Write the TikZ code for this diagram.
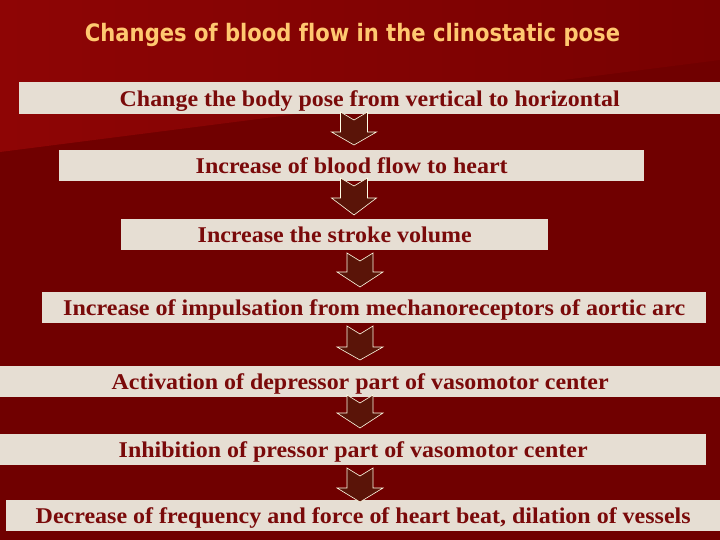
\documentclass[tikz,border=0pt]{standalone}
\usepackage{fontspec}
\setmainfont{Liberation Serif}
\newfontfamily\titlefont[Ligatures=NoCommon]{DejaVu Sans}
\usetikzlibrary{calc}
\definecolor{bgdark}{HTML}{700000}
\definecolor{bglight}{HTML}{8E0505}
\definecolor{bgmid}{HTML}{780101}
\definecolor{boxfill}{HTML}{E6DED3}
\definecolor{boxtext}{HTML}{7A0A0A}
\definecolor{titlecol}{HTML}{FFC870}
\definecolor{arrowfill}{HTML}{5A1408}
\tikzset{
  stepbox/.style={fill=boxfill, inner sep=0pt, anchor=north west,
    text height=23pt, text depth=7pt, text=boxtext,
    font=\bfseries\fontsize{22.5}{22.5}\selectfont},
  flowarrow/.style={fill=arrowfill, draw=white!90!yellow, line width=0.6pt, line join=miter},
  titletext/.style={text=titlecol, anchor=base, inner sep=0pt,
    font=\titlefont\bfseries\fontsize{24}{24}\selectfont}
}
% #1 top-centre coordinate, #2 head-top offset, #3 tip offset, #4 shaft half width, #5 head half width
\newcommand\flowarr[5]{%
  \draw[flowarrow, shift={(#1)}] (-#4,0) -- (0,8) -- (#4,0) -- (#4,#2) -- (#5,#2)
    -- (0,#3) -- (-#5,#2) -- (-#4,#2) -- cycle;}
\newcommand\fitw[2]{\resizebox{#1pt}{\height}{#2}}
\begin{document}
\begin{tikzpicture}[x=1pt,y=-1pt]
\useasboundingbox (0,0) rectangle (720,540);
\fill[bgdark] (0,0) rectangle (720,540);
\shade[left color=bglight, right color=bgmid] (0,0) -- (720,0) -- (720,60) -- (0,152) -- cycle;

\node[titletext] (title) at (352.5,42) {\fitw{535}{Changes of blood flow in the clinostatic pose}};

\node[stepbox, minimum width=701pt, minimum height=32pt] (b1) at (19,82)
  {\fitw{500}{Change the body pose from vertical to horizontal}};
\node[stepbox, minimum width=585pt, minimum height=31pt] (b2) at (59,150)
  {\fitw{312}{Increase of blood flow to heart}};
\node[stepbox, minimum width=427pt, minimum height=31pt] (b3) at (121,219)
  {\fitw{274}{Increase the stroke volume}};
\node[stepbox, minimum width=664pt, minimum height=31pt] (b4) at (42,292)
  {\fitw{622}{Increase of impulsation from mechanoreceptors of aortic arc}};
\node[stepbox, minimum width=720pt, minimum height=31pt] (b5) at (0,366)
  {\fitw{497}{Activation of depressor part of vasomotor center}};
\node[stepbox, minimum width=706pt, minimum height=31pt] (b6) at (0,434)
  {\fitw{469}{Inhibition of pressor part of vasomotor center}};
\node[stepbox, minimum width=714pt, minimum height=31pt] (b7) at (6,500)
  {\fitw{655}{Decrease of frequency and force of heart beat, dilation of vessels}};

\coordinate (a1) at (354,112);
\coordinate (a2) at (354,178);
\coordinate (a3) at (360,253);
\coordinate (a4) at (360,326);
\coordinate (a5) at (360,395);
\coordinate (a6) at (360,468);
\flowarr{a1}{20}{33}{13.5}{22.5}
\flowarr{a2}{20}{37}{13.5}{22.5}
\flowarr{a3}{19}{34}{13}{23}
\flowarr{a4}{21}{34}{13}{23}
\flowarr{a5}{18}{33}{13}{23}
\flowarr{a6}{20}{34}{13}{23}
\end{tikzpicture}
\end{document}
